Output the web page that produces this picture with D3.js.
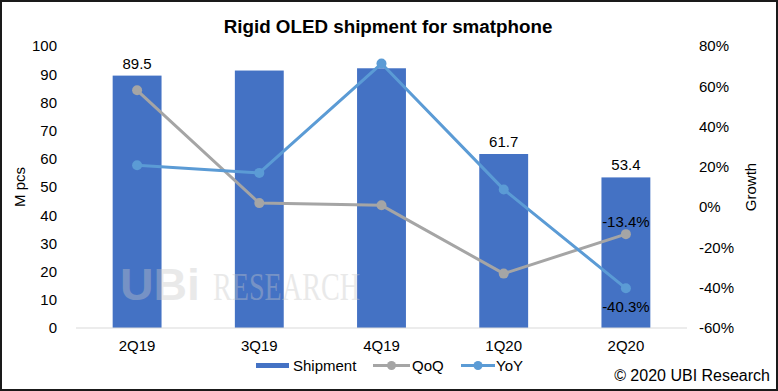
<!DOCTYPE html>
<html><head><meta charset="utf-8">
<script src="https://cdn.jsdelivr.net/npm/d3@7"></script>
<style>
html,body{margin:0;padding:0;background:#fff;}
svg{display:block;font-family:"Liberation Sans",Arial,sans-serif;}
</style></head>
<body>
<svg id="c" width="778" height="391"></svg>
<script>
const categories = ["2Q19","3Q19","4Q19","1Q20","2Q20"];
const shipment = [89.5, 91.3, 92.1, 61.7, 53.4];
const shipmentLabels = ["89.5", null, null, "61.7", "53.4"];
const qoq = [58.0, 2.0, 0.9, -33.0, -13.4];
const yoy = [20.8, 17.0, 71.3, 8.8, -40.3];
const leftTicks = [0,10,20,30,40,50,60,70,80,90,100];
const rightTicks = [-60,-40,-20,0,20,40,60,80];

const svg = d3.select("#c");
const W = 778, H = 391;
const FS = 15;
svg.append("rect").attr("x",1).attr("y",1).attr("width",W-2).attr("height",H-2)
  .attr("fill","#fff").attr("stroke","#1a1a1a").attr("stroke-width",2);

const x = d3.scaleBand().domain(categories).range([76, 687]).paddingInner(0.6).paddingOuter(0.3);
const yL = d3.scaleLinear().domain([0,100]).range([328, 46]);
const yR = d3.scaleLinear().domain([-60,80]).range([328, 46]);

// title
svg.append("text").attr("x", 388).attr("y", 33).attr("text-anchor","middle")
  .attr("font-size", 18.8).attr("font-weight","bold").attr("fill","#000")
  .text("Rigid OLED shipment for smatphone");

// bars
svg.append("g").selectAll("rect").data(shipment).join("rect")
  .attr("x",(d,i)=>x(categories[i])).attr("width",x.bandwidth())
  .attr("y",d=>yL(d)).attr("height",d=>yL(0)-yL(d)).attr("fill","#4472C4");

// watermark (drawn over bars)
const wm = svg.append("g").attr("opacity",0.38);
wm.append("text").attr("x",120).attr("y",300).attr("font-size",44).attr("font-weight","bold")
  .attr("fill","#c8c8c8").attr("font-family","Liberation Sans, Arial").attr("textLength",80)
  .attr("lengthAdjust","spacingAndGlyphs").text("UBi");
wm.append("text").attr("x",213).attr("y",300).attr("font-size",40)
  .attr("fill","#c8c8c8").attr("font-family","Liberation Serif, Times New Roman, serif").attr("textLength",147)
  .attr("lengthAdjust","spacingAndGlyphs").text("RESEARCH");

// baseline
svg.append("line").attr("x1",76).attr("x2",687).attr("y1",yL(0)).attr("y2",yL(0))
  .attr("stroke","#d9d9d9").attr("stroke-width",1);

// left axis
const axL = d3.axisLeft(yL).tickValues(leftTicks).tickSize(0).tickPadding(0);
const gL = svg.append("g").attr("transform","translate(57,0)").call(axL);
gL.select(".domain").remove();
gL.selectAll("text").attr("font-size",FS).attr("fill","#000").attr("font-family","Liberation Sans, Arial");

// right axis
const axR = d3.axisRight(yR).tickValues(rightTicks).tickSize(0).tickPadding(0).tickFormat(d=>d+"%");
const gR = svg.append("g").attr("transform","translate(699,0)").call(axR);
gR.select(".domain").remove();
gR.selectAll("text").attr("font-size",FS).attr("fill","#000").attr("font-family","Liberation Sans, Arial");

// x axis labels
const axX = d3.axisBottom(x).tickSize(0).tickPadding(0);
const gX = svg.append("g").attr("transform","translate(0,340)").call(axX);
gX.select(".domain").remove();
gX.selectAll("text").attr("font-size",FS).attr("fill","#000").attr("font-family","Liberation Sans, Arial");

// axis titles
svg.append("text").attr("transform","translate(25,187) rotate(-90)").attr("text-anchor","middle")
  .attr("font-size",FS).attr("fill","#000").text("M pcs");
svg.append("text").attr("transform","translate(756,187) rotate(-90)").attr("text-anchor","middle")
  .attr("font-size",FS).attr("fill","#000").text("Growth");

// lines
const cx = i => x(categories[i]) + x.bandwidth()/2;
function drawLine(vals, color){
  const line = d3.line().x((d,i)=>cx(i)).y(d=>yR(d));
  svg.append("path").datum(vals).attr("d",line).attr("fill","none")
    .attr("stroke",color).attr("stroke-width",3).attr("stroke-linejoin","round");
  svg.append("g").selectAll("circle").data(vals).join("circle")
    .attr("cx",(d,i)=>cx(i)).attr("cy",d=>yR(d)).attr("r",5).attr("fill",color);
}
drawLine(qoq, "#A5A5A5");
drawLine(yoy, "#5B9BD5");

// data labels
svg.append("g").selectAll("text").data(shipment).join("text")
  .attr("x",(d,i)=>cx(i)).attr("y",d=>yL(d)-7).attr("text-anchor","middle")
  .attr("font-size",FS).attr("fill","#000")
  .text((d,i)=>shipmentLabels[i]||"");
const last = categories.length-1;
svg.append("text").attr("x",cx(last)).attr("y",yR(qoq[last])-7).attr("text-anchor","middle")
  .attr("font-size",FS).attr("fill","#000").text(qoq[last].toFixed(1)+"%");
svg.append("text").attr("x",cx(last)).attr("y",yR(yoy[last])+24).attr("text-anchor","middle")
  .attr("font-size",FS).attr("fill","#000").text(yoy[last].toFixed(1)+"%");

// legend
const lg = svg.append("g");
lg.append("rect").attr("x",256).attr("y",363).attr("width",33).attr("height",5).attr("fill","#4472C4");
lg.append("text").attr("x",293).attr("y",370.5).attr("font-size",FS).text("Shipment");
lg.append("line").attr("x1",373).attr("x2",410).attr("y1",365.5).attr("y2",365.5).attr("stroke","#A5A5A5").attr("stroke-width",3);
lg.append("circle").attr("cx",391.5).attr("cy",365.5).attr("r",4.5).attr("fill","#A5A5A5");
lg.append("text").attr("x",412).attr("y",370.5).attr("font-size",FS).text("QoQ");
lg.append("line").attr("x1",461).attr("x2",495).attr("y1",365.5).attr("y2",365.5).attr("stroke","#5B9BD5").attr("stroke-width",3);
lg.append("circle").attr("cx",478).attr("cy",365.5).attr("r",4.5).attr("fill","#5B9BD5");
lg.append("text").attr("x",496).attr("y",370.5).attr("font-size",FS).text("YoY");

// copyright
svg.append("text").attr("x",770).attr("y",380.5).attr("text-anchor","end")
  .attr("font-size",16).attr("fill","#000").text("© 2020 UBI Research");
</script>
</body></html>
